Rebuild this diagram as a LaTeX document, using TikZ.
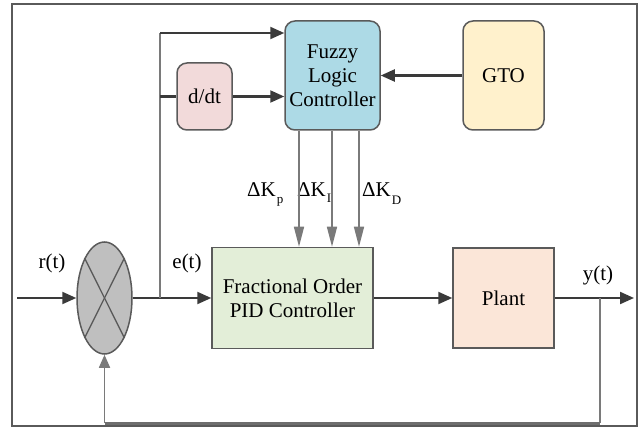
\documentclass[tikz,border=0pt]{standalone}
\usepackage{fontspec}
\setmainfont{Liberation Serif}
\usetikzlibrary{arrows.meta,shapes.geometric}

\definecolor{fuzzyblue}{HTML}{ADDAE6}
\definecolor{gtoyellow}{HTML}{FFF1CC}
\definecolor{ddtpink}{HTML}{F2DADA}
\definecolor{pidgreen}{HTML}{E3EED8}
\definecolor{plantpeach}{HTML}{FBE6D8}
\definecolor{edge}{HTML}{5A5A5A}
\definecolor{wire}{HTML}{3A3A3A}
\definecolor{grey}{HTML}{7A7A7A}

\tikzset{
  blk/.style={draw=edge,line width=1.5pt,align=center,inner sep=0pt},
  rblk/.style={blk,rounded corners=10pt},
  sig/.style={draw=wire,line width=2.1pt,-{Triangle[length=14pt,width=12pt]}},
  wireline/.style={draw=wire,line width=2.1pt},
  tapline/.style={draw=grey,line width=1.6pt},
  gain/.style={draw=grey,line width=1.5pt,-{Triangle[length=20pt,width=10pt]}}
}

\begin{document}
\begin{tikzpicture}[x=1pt,y=-1pt,font=\rmfamily\fontsize{21}{24}\selectfont]
  \useasboundingbox (0,0) rectangle (642,427);
  \draw[edge,line width=1.3pt] (12,4) rectangle (637,426);

  % blocks
  \node[rblk,fill=fuzzyblue,minimum width=95pt,minimum height=109pt] (fuzzy) at (332.5,75.5) {Fuzzy\\Logic\\Controller};
  \node[rblk,fill=gtoyellow,minimum width=81pt,minimum height=109pt] (gto) at (503.5,75.5) {GTO};
  \node[rblk,fill=ddtpink,minimum width=55pt,minimum height=67pt] (ddt) at (204.5,96.5) {d/dt};
  \node[blk,fill=pidgreen,minimum width=161pt,minimum height=101pt] (pid) at (292.5,298) {Fractional Order\\PID Controller};
  \node[blk,fill=plantpeach,minimum width=101pt,minimum height=100pt] (plant) at (503.5,298) {Plant};
  \node[ellipse,draw=edge,line width=1.5pt,fill=gray!50,minimum width=55pt,minimum height=112pt] (sum) at (104.5,298) {};
  \draw[edge,line width=1.3pt] (sum.north west) -- (sum.south east);
  \draw[edge,line width=1.3pt] (sum.north east) -- (sum.south west);

  % points on the wires
  \coordinate (in) at (17,298);
  \coordinate (br) at (160,298);
  \coordinate (tap) at (160,33);
  \coordinate (out) at (634,298);
  \coordinate (fb) at (600,298);
  \coordinate (fbr) at (600,423);

  % labels
  \node (rt) at (52,263) {r(t)};
  \node (et) at (187,263) {e(t)};
  \node (yt) at (598,275) {y(t)};
  \node[anchor=base west,inner sep=0pt] (dkp) at (247,197) {ΔK\kern1pt\raisebox{-7pt}{\fontsize{13}{13}\selectfont p}};
  \node[anchor=base west,inner sep=0pt] (dki) at (297,197) {ΔK\kern1pt\raisebox{-6pt}{\fontsize{13}{13}\selectfont I}};
  \node[anchor=base west,inner sep=0pt] (dkd) at (362,197) {ΔK\kern1pt\raisebox{-8pt}{\fontsize{13}{13}\selectfont D}};

  % forward path
  \draw[sig] (in) -- (sum);
  \draw[wireline] (sum) -- (br);
  \draw[sig] (br) -- (pid);
  \draw[sig] (pid) -- (plant);
  \draw[sig] (plant) -- (out);

  % error taps into the fuzzy block
  \draw[tapline] (br) -- (tap);
  \draw[sig] (tap) -- (tap -| fuzzy.west);
  \draw[wireline] (br |- ddt) -- (ddt);
  \draw[sig] (ddt) -- (ddt -| fuzzy.west);
  \draw[sig] (gto) -- (fuzzy);

  % gain corrections
  \foreach \gx in {299,332,359}
    \draw[gain] (fuzzy.south -| \gx,0) -- (pid.north -| \gx,0);

  % feedback
  \draw[tapline] (fb) -- (fbr);
  \draw[draw=grey!90!black,line width=3pt] (fbr) -- (fbr -| sum);
  \draw[tapline,-{Triangle[length=13pt,width=11pt]}] (fbr -| sum) -- (sum);
\end{tikzpicture}
\end{document}
